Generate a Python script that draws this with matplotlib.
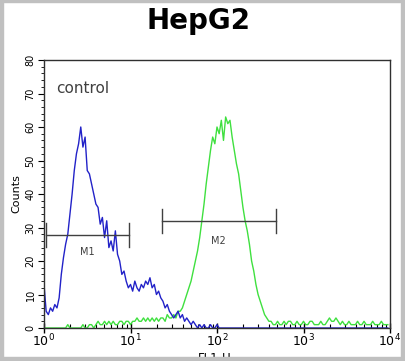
#!/usr/bin/env python
#-*- coding: utf-8 -*-

import numpy as np
import matplotlib
matplotlib.use('Agg')
import matplotlib.pyplot as plt
from matplotlib.patches import Rectangle
from matplotlib.ticker import MultipleLocator, LogLocator, NullFormatter


# histogram channels, 0.025 decade wide, starting at 10^0
bin_width = 0.025

control_counts = [13, 5, 4, 6, 5, 7, 6, 9, 16, 21,
                  25, 28, 34, 40, 47, 52, 55, 60, 54, 57,
                  47, 46, 43, 40, 37, 36, 31, 33, 27, 32,
                  24, 26, 23, 29, 22, 20, 16, 17, 14, 12,
                  13, 11, 14, 12, 11, 13, 12, 14, 13, 15,
                  12, 13, 10, 11, 9, 8, 6, 7, 5, 4,
                  3, 4, 5, 3, 4, 2, 3, 2, 1, 2,
                  1, 0, 1, 0, 1, 0, 0, 1, 0, 0,
                  1, 0, 0, 0, 0, 0, 0, 0, 0, 0,
                  0, 0, 0, 0, 0, 0, 0, 0, 0, 0,
                  0, 0, 0, 0, 0, 0, 0, 0, 0, 0,
                  0, 0, 0, 0, 0, 0, 0, 0, 0, 0,
                  0, 0, 0, 0, 0, 0, 0, 0, 0, 0,
                  0, 0, 0, 0, 0, 0, 0, 0, 0, 0,
                  0, 0, 0, 0, 0, 0, 0, 0, 0, 0,
                  0, 0, 0, 0, 0, 0, 0, 0, 0, 0]

hepg2_counts = [0, 0, 0, 0, 0, 0, 0, 0, 0, 0,
                0, 1, 0, 0, 0, 0, 0, 0, 1, 0,
                0, 1, 1, 0, 1, 2, 1, 1, 2, 1,
                2, 1, 2, 1, 1, 2, 2, 1, 2, 2,
                1, 2, 2, 3, 2, 2, 3, 2, 3, 2,
                3, 2, 3, 2, 3, 3, 2, 4, 3, 3,
                4, 3, 5, 5, 6, 8, 10, 12, 14, 17,
                20, 23, 27, 32, 37, 43, 48, 53, 57, 55,
                60, 58, 62, 56, 63, 61, 62, 57, 53, 49,
                46, 41, 36, 32, 29, 25, 20, 17, 13, 10,
                8, 6, 4, 3, 2, 2, 1, 1, 2, 1,
                1, 2, 1, 2, 2, 1, 1, 2, 1, 1,
                2, 1, 1, 2, 2, 1, 1, 1, 2, 1,
                1, 2, 3, 2, 2, 3, 2, 1, 2, 1,
                1, 2, 1, 1, 1, 2, 1, 1, 2, 1,
                1, 1, 2, 1, 1, 1, 2, 1, 1, 1]

# markers: (label, start, end, height, label height)
markers = [('M1', 1.05, 9.5, 27.7, 22.7),
           ('M2', 23.0, 480.0, 32.0, 26.0)]

y_ticks = [0, 10, 20, 30, 40, 50, 60, 70, 80]
x_ticks = [1, 10, 100, 1000, 10000]
x_tick_labels = [r'$10^{0}$', r'$10^{1}$', r'$10^{2}$', r'$10^{3}$', r'$10^{4}$']


fig = plt.figure(figsize=(4.05, 3.61), dpi=100)
ax = fig.add_axes([44 / 405., 1 - 328 / 361., 346 / 405., 268 / 361.])

x_control = 10 ** (np.arange(len(control_counts)) * bin_width)
x_hepg2 = 10 ** (np.arange(len(hepg2_counts)) * bin_width)

ax.plot(x_hepg2, hepg2_counts, color='#3fe03f', lw=1.0)
ax.plot(x_control, control_counts, color='#2222c8', lw=1.0)

# gate markers
for name, x0, x1, h, hl in markers:
    ax.plot([x0, x1], [h, h], color='#404040', lw=1.0)
    ax.plot([x0, x0], [h - 3.6, h + 3.6], color='#404040', lw=1.0)
    ax.plot([x1, x1], [h - 3.6, h + 3.6], color='#404040', lw=1.0)
    ax.text(np.sqrt(x0 * x1), hl, name, ha='center', va='center',
            fontsize=7, color='#404040')

ax.text(1.38, 71.5, 'control', fontsize=11, color='#404040', va='center')

ax.set_xscale('log')
ax.set_xlim(1, 10000)
ax.set_ylim(0, 80)

ax.set_yticks(y_ticks)
ax.set_yticklabels([str(v) for v in y_ticks], rotation=90, va='center', fontsize=7)
ax.yaxis.set_minor_locator(MultipleLocator(2))
ax.tick_params(axis='y', which='major', direction='out', length=4, width=0.8, pad=2)
ax.tick_params(axis='y', which='minor', direction='out', length=2, width=0.6)

ax.set_xticks(x_ticks)
ax.set_xticklabels(x_tick_labels, fontsize=9)
ax.xaxis.set_minor_locator(LogLocator(base=10, subs=np.arange(2, 10)))
ax.xaxis.set_minor_formatter(NullFormatter())
ax.tick_params(axis='x', which='major', direction='inout', length=7, width=1.0, pad=0)
ax.tick_params(axis='x', which='minor', direction='in', length=3, width=0.8)

ax.set_ylabel('Counts', fontsize=8, labelpad=3)

for s in ax.spines.values():
    s.set_color('#303030')
    s.set_linewidth(1.0)

fig.text(0.49, 1 - 29 / 361., 'HepG2', fontsize=20, fontweight='bold',
         ha='center', va='baseline')
# x label sits mostly under the bottom border, as in the scan
fig.text(0.53, 1 - 352 / 361., 'FL1-H', fontsize=8.5, ha='center', va='top')

# grey picture border
border = '#c0c0c0'
for x, y, w, h in [(0, 0, 3, 361), (401, 0, 4, 361), (0, 0, 405, 2), (0, 357, 405, 4)]:
    fig.patches.append(Rectangle((x / 405., 1 - (y + h) / 361.), w / 405., h / 361.,
                                 transform=fig.transFigure, color=border, zorder=10))

fig.savefig('out.png', dpi=100)
